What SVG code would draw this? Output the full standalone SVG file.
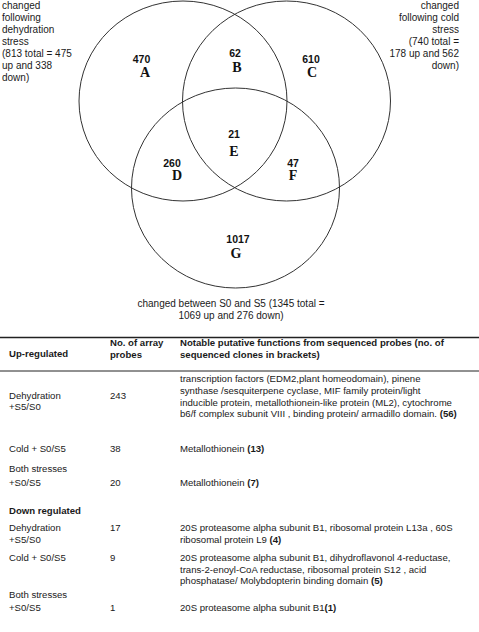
<svg xmlns="http://www.w3.org/2000/svg" width="479" height="632" viewBox="0 0 479 632">
<style>
.c{fill:none;stroke:#333;stroke-width:1}
.t{font-family:"Liberation Sans",Arial,sans-serif;font-size:10px;fill:#1a1a1a}
.n{font-family:"Liberation Sans",Arial,sans-serif;font-size:10.5px;font-weight:bold;fill:#111;text-anchor:middle}
.l{font-family:"Liberation Serif","Times New Roman",serif;font-size:14px;font-weight:bold;fill:#111;text-anchor:middle}
.tb{font-family:"Liberation Sans",Arial,sans-serif;font-size:9.6px;fill:#1a1a1a}
.b{font-weight:bold}
.rule{stroke:#222;stroke-width:1.5}
</style>
<rect width="479" height="632" fill="#fff"/>
<g id="circleA"><ellipse class="c" cx="183" cy="101" rx="104" ry="100"/></g>
<g id="circleC"><ellipse class="c" cx="286.5" cy="101" rx="104" ry="100"/></g>
<g id="circleG"><ellipse class="c" cx="235.5" cy="188" rx="104" ry="100"/></g>
<g id="regions">
<text class="n" x="141.5" y="63">470</text><text class="l" x="145" y="77">A</text>
<text class="n" x="235" y="57">62</text><text class="l" x="237" y="72">B</text>
<text class="n" x="311" y="63">610</text><text class="l" x="312" y="77">C</text>
<text class="n" x="234" y="138">21</text><text class="l" x="234" y="156">E</text>
<text class="n" x="172" y="167">260</text><text class="l" x="177" y="180">D</text>
<text class="n" x="293" y="167">47</text><text class="l" x="293" y="180">F</text>
<text class="n" x="238" y="243">1017</text><text class="l" x="236" y="258">G</text>
</g>
<g id="labelA" class="t">
<text x="2" y="9">changed</text>
<text x="2" y="21">following</text>
<text x="2" y="33">dehydration</text>
<text x="2" y="45">stress</text>
<text x="2" y="57">(813 total = 475</text>
<text x="2" y="69">up and 338</text>
<text x="2" y="81">down)</text>
</g>
<g id="labelC" class="t" text-anchor="end">
<text x="459" y="9">changed</text>
<text x="459" y="21">following cold</text>
<text x="459" y="33">stress</text>
<text x="459" y="45">(740 total =</text>
<text x="459" y="57">178 up and 562</text>
<text x="459" y="69">down)</text>
</g>
<g id="labelG" class="t" text-anchor="middle">
<text x="231" y="307">changed between S0 and S5 (1345 total =</text>
<text x="231" y="319">1069 up and 276 down)</text>
</g>
<g id="table" class="tb">
<line class="rule" x1="0" y1="337.5" x2="479" y2="337.5"/>
<line class="rule" x1="0" y1="371" x2="479" y2="371" style="stroke-width:1"/>
<text class="b" x="9" y="357">Up-regulated</text>
<text class="b" x="110" y="346">No. of array</text>
<text class="b" x="110" y="357.5">probes</text>
<text class="b" x="180" y="346">Notable putative functions from sequenced probes (no. of</text>
<text class="b" x="180" y="357.5">sequenced clones in brackets)</text>

<text x="9" y="399">Dehydration</text>
<text x="9" y="410">+S5/S0</text>
<text x="110" y="399">243</text>
<text x="180" y="382">transcription factors (EDM2,plant homeodomain), pinene</text>
<text x="180" y="394">synthase /sesquiterpene cyclase, MIF family protein/light</text>
<text x="180" y="405.5">inducible protein, metallothionein-like protein (ML2), cytochrome</text>
<text x="180" y="417">b6/f complex subunit VIII , binding protein/ armadillo domain. <tspan class="b">(56)</tspan></text>

<text x="9" y="452">Cold + S0/S5</text>
<text x="110" y="452">38</text>
<text x="180" y="452">Metallothionein <tspan class="b">(13)</tspan></text>

<text x="9" y="472">Both stresses</text>
<text x="9" y="486">+S0/S5</text>
<text x="110" y="486">20</text>
<text x="180" y="486">Metallothionein <tspan class="b">(7)</tspan></text>

<text class="b" x="9" y="514">Down regulated</text>

<text x="9" y="531">Dehydration</text>
<text x="9" y="543">+S5/S0</text>
<text x="110" y="531">17</text>
<text x="180" y="531">20S proteasome alpha subunit B1, ribosomal protein L13a , 60S</text>
<text x="180" y="543">ribosomal protein L9 <tspan class="b">(4)</tspan></text>

<text x="9" y="561">Cold + S0/S5</text>
<text x="110" y="561">9</text>
<text x="180" y="561">20S proteasome alpha subunit B1, dihydroflavonol 4-reductase,</text>
<text x="180" y="572.5">trans-2-enoyl-CoA reductase, ribosomal protein S12 , acid</text>
<text x="180" y="584">phosphatase/ Molybdopterin binding domain <tspan class="b">(5)</tspan></text>

<text x="9" y="598">Both stresses</text>
<text x="9" y="611">+S0/S5</text>
<text x="110" y="611">1</text>
<text x="180" y="611">20S proteasome alpha subunit B1<tspan class="b">(1)</tspan></text>
</g>
</svg>
